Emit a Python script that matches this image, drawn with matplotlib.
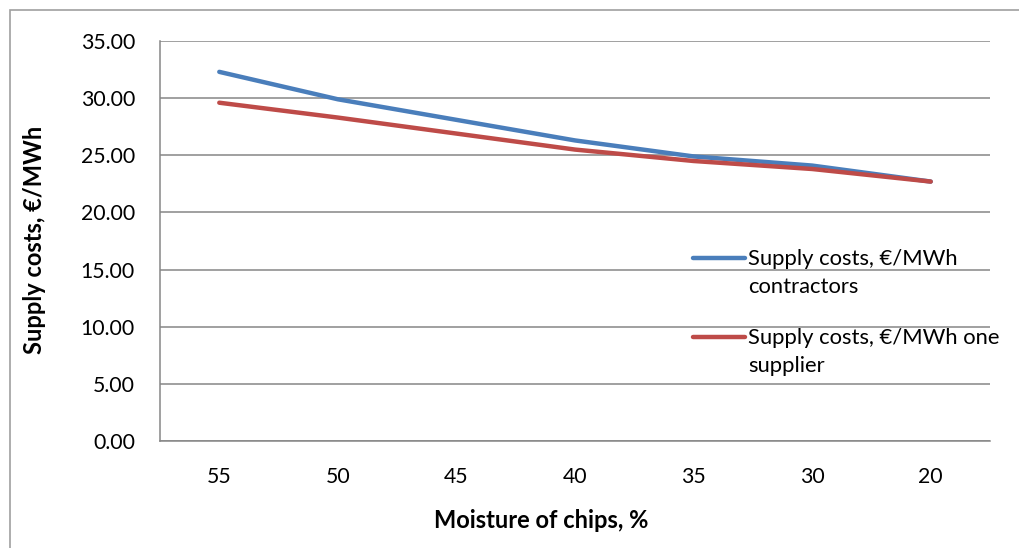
import matplotlib.pyplot as plt
from matplotlib.lines import Line2D
from matplotlib.patches import Rectangle

moisture = ["55", "50", "45", "40", "35", "30", "20"]
contractors = [32.3, 29.9, 28.1, 26.3, 24.9, 24.1, 22.7]
one_supplier = [29.6, 28.3, 26.9, 25.5, 24.5, 23.8, 22.7]
series_labels = ["Supply costs, €/MWh\ncontractors", "Supply costs, €/MWh one\nsupplier"]
series_colors = ["#4a7ebb", "#be4b48"]

plt.rcParams["font.family"] = ["Lato", "DejaVu Sans"]

W, H = 1019, 548
fig = plt.figure(figsize=(W / 100, H / 100), dpi=100)
ax = fig.add_axes([160 / W, 1 - 441 / H, 830 / W, 400 / H])

# chart area border
fig.patches.append(Rectangle((10 / W, -0.1), 1.2, (538 / H) + 0.1,
                             transform=fig.transFigure, fill=False,
                             edgecolor="#a0a0a0", linewidth=1.2))

x = range(len(moisture))
for vals, lab, col in zip([contractors, one_supplier], series_labels, series_colors):
    ax.plot(x, vals, color=col, linewidth=3.2, solid_capstyle="round",
            solid_joinstyle="round", label=lab)

ax.set_xlim(-0.5, len(moisture) - 0.5)
ax.set_ylim(0, 35)
ax.set_yticks(range(0, 36, 5))
ax.set_yticklabels([f"{v:.2f}" for v in range(0, 36, 5)])
ax.set_xticks(list(x))
ax.set_xticklabels(moisture)
ax.tick_params(length=0, labelsize=15.3, colors="black")
ax.tick_params(axis="y", pad=18)
ax.tick_params(axis="x", pad=19)

ax.grid(axis="y", color="#868686", linewidth=1.1)
ax.set_axisbelow(True)
for s in ["top", "right"]:
    ax.spines[s].set_visible(False)
for s in ["left", "bottom"]:
    ax.spines[s].set_color("#868686")
    ax.spines[s].set_linewidth(1.1)

fig.text(35 / W, 1 - 240 / H, "Supply costs, €/MWh", fontsize=17, fontweight="bold",
         rotation=90, ha="center", va="center")
fig.text(541 / W, 1 - 521 / H, "Moisture of chips, %", fontsize=17,
         fontweight="bold", ha="center", va="center")

# legend, Excel style: key aligned with first text line
for i, (lab, col) in enumerate(zip(series_labels, series_colors)):
    y0 = 258 + i * 79
    fig.add_artist(Line2D([693 / W, 745 / W], [1 - y0 / H, 1 - y0 / H], color=col,
                          linewidth=3.2, solid_capstyle="round",
                          transform=fig.transFigure))
    fig.text(748 / W, 1 - (y0 - 9) / H, lab, fontsize=15.8, ha="left", va="top",
             linespacing=1.48)

fig.savefig("out.png", dpi=100)
